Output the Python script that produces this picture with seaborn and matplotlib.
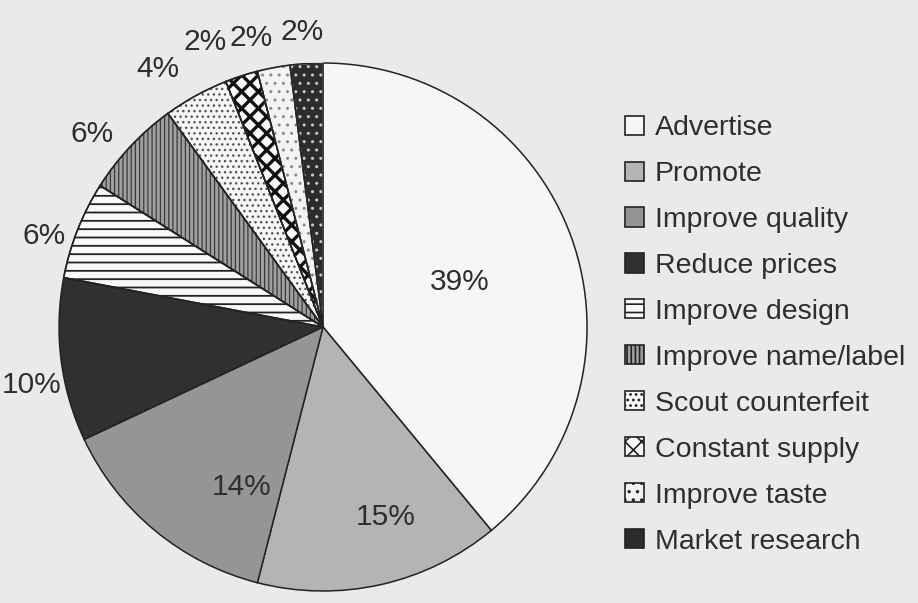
import numpy as np
import matplotlib
matplotlib.use("Agg")
import matplotlib.pyplot as plt
from matplotlib.patches import Patch, Wedge
import seaborn as sns

# Survey answers and their shares (percent)
categories = ["Advertise", "Promote", "Improve quality", "Reduce prices",
              "Improve design", "Improve name/label", "Scout counterfeit",
              "Constant supply", "Improve taste", "Market research"]
shares = [39, 15, 14, 10, 6, 6, 4, 2, 2, 2]
pct_labels = [f"{v}%" for v in shares]

# Greyscale fills and hatch patterns for each slice
face_colors = ["#f6f6f6", "#b4b4b4", "#959595", "#303030", "#f8f8f8",
               "#a0a0a0", "#f6f6f6", "#f8f8f8", "#f3f3f3", "#2c2c2c"]
hatches = [None, None, None, None, "--", "||||", "...", "xx", "..", ".."]
hatch_colors = ["#222222", "#222222", "#222222", "#222222", "#222222",
                "#3a3a3a", "#555555", "#111111", "#8a8a8a", "#c8c8c8"]
hatch_widths = [1.0, 1.0, 1.0, 1.0, 1.3, 0.9, 1.0, 2.4, 1.0, 1.0]

# Label placement: distance from centre (in radii) and angular nudge (deg)
label_dist = [0.546, 0.758, 0.68, 1.124, 1.11, 1.14, 1.16, 1.17, 1.13, 1.12]
label_nudge = [-1.6, 5.7, 12.6, 4.1, 3.6, 3.2, 3.9, 4.5, 3.2, 0.4]

bg = "#eaeaea"
text_color = "#2e2e2e"
edge = "#222222"

sns.set_theme(style="white")
plt.rcParams["font.family"] = ["Liberation Sans", "DejaVu Sans"]
plt.rcParams["hatch.linewidth"] = 1.2

fig = plt.figure(figsize=(9.18, 6.03), dpi=100, facecolor=bg)
ax = fig.add_axes([0.0643, 0.0199, 0.5752, 0.8756])
ax.set_facecolor(bg)

wedges, _ = ax.pie(shares, startangle=90, counterclock=False,
                   colors=face_colors, radius=1.0,
                   wedgeprops=dict(edgecolor=edge, linewidth=1.1))


def style_patch(p, h, hc, hw):
    if h:
        p.set_hatch(h)
        p.set_edgecolor(hc)
        if hasattr(p, "set_hatch_linewidth"):
            p.set_hatch_linewidth(hw)


for w, h, hc, hw in zip(wedges, hatches, hatch_colors, hatch_widths):
    style_patch(w, h, hc, hw)
    if h:
        # crisp dark outline on top of the hatched slice
        ax.add_patch(Wedge(w.center, w.r, w.theta1, w.theta2, fill=False,
                           edgecolor=edge, linewidth=1.1))

for w, lab, d, nud in zip(wedges, pct_labels, label_dist, label_nudge):
    ang = np.deg2rad((w.theta1 + w.theta2) / 2 + nud)
    ax.text(d * np.cos(ang), d * np.sin(ang), lab, ha="center", va="center",
            fontsize=21.5, color=text_color, clip_on=False)

ax.set_xlim(-1, 1)
ax.set_ylim(-1, 1)
ax.set_aspect("equal")
ax.axis("off")

handles = []
for fc, h, hc, hw in zip(face_colors, hatches, hatch_colors, hatch_widths):
    p = Patch(facecolor=fc, edgecolor=edge, linewidth=1.2)
    if h and fc != "#2c2c2c":
        style_patch(p, h, hc, hw)
    handles.append(p)

leg = fig.legend(handles, categories, loc="upper left",
                 bbox_to_anchor=(0.681, 0.809), bbox_transform=fig.transFigure,
                 frameon=False, fontsize=20.5, handlelength=0.66,
                 handleheight=0.66, handletextpad=0.38, labelspacing=0.70,
                 borderpad=0, borderaxespad=0, labelcolor=text_color)
for hp in leg.get_patches():
    hp.set_edgecolor(edge)

fig.savefig("out.png", dpi=100, facecolor=bg)
